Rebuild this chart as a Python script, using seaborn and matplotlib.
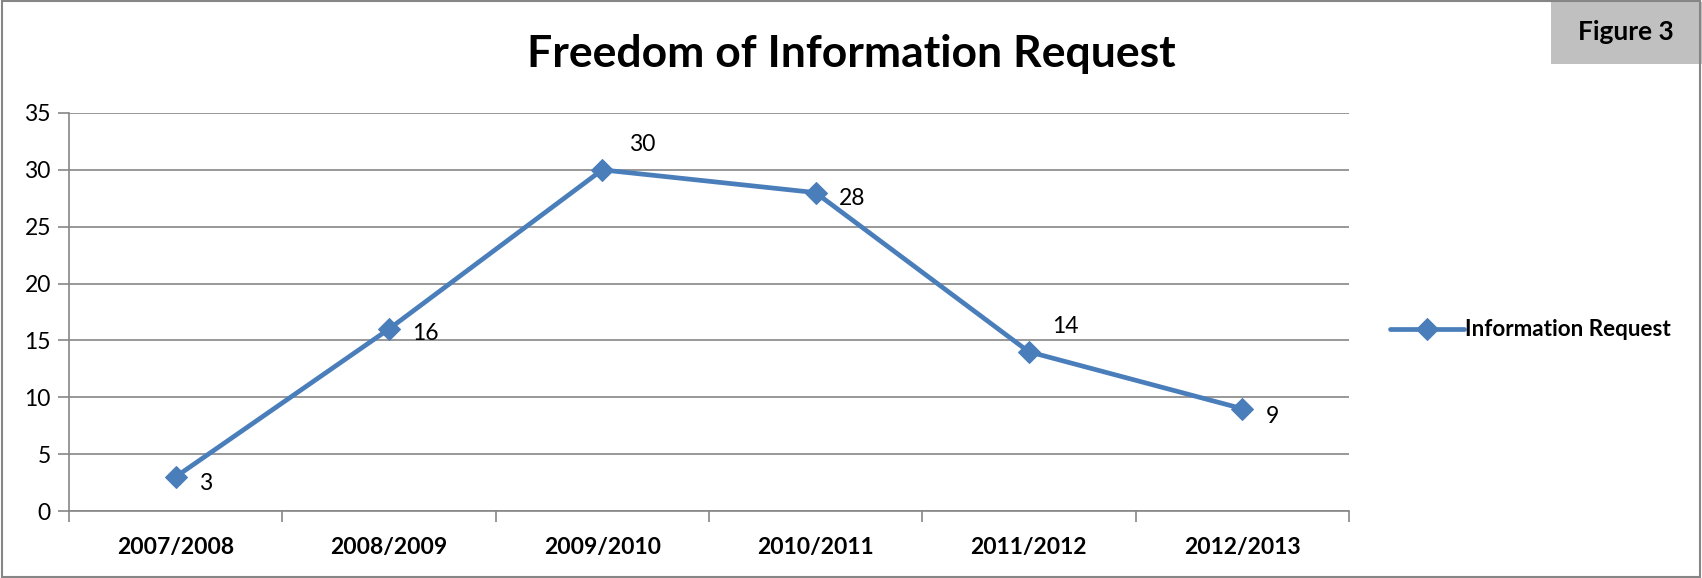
import matplotlib
matplotlib.use("Agg")
import matplotlib.pyplot as plt
import pandas as pd
import seaborn as sns
from matplotlib.patches import Rectangle

years = ["2007/2008", "2008/2009", "2009/2010", "2010/2011", "2011/2012", "2012/2013"]
requests = [3, 16, 30, 28, 14, 9]
seriesName = "Information Request"

# label offsets in points (Excel put some above-right)
labelOffsets = [(17, -5), (17, -3), (19, 18), (17, -4), (17, 18), (17, -6)]

df = pd.DataFrame({"Year": range(len(years)), "Requests": requests, "Series": seriesName})

sns.set_theme(style="white", rc={"text.color": "black", "xtick.color": "black", "ytick.color": "black"})
plt.rcParams["font.family"] = ["Lato", "DejaVu Sans"]

blue = "#4A7EBB"
grey = "#868686"

fig = plt.figure(figsize=(17.02, 5.78), dpi=100)
ax = fig.add_axes([0.0405, 0.1159, 0.752, 0.6886])

sns.lineplot(x="Year", y="Requests", hue="Series", data=df, palette=[blue], marker="D",
             markersize=11, linewidth=3.4, markeredgecolor=blue, ax=ax)

for i, v in enumerate(requests):
    ax.annotate(str(v), (i, v), xytext=labelOffsets[i], textcoords="offset points",
                fontsize=16.5, color="black", va="center", ha="left")

ax.set_ylim(0, 35)
ax.set_yticks(range(0, 36, 5))
ax.set_xlim(-0.5, len(years) - 0.5)
ax.set_xticks([i - 0.5 for i in range(len(years) + 1)])
ax.set_xticklabels([])
ax.set_xticks(range(len(years)), minor=True)
ax.set_xticklabels(years, minor=True, fontsize=16.5, fontweight="bold")
ax.tick_params(axis="x", which="major", direction="out", length=8, color=grey, width=1.2, bottom=True)
ax.tick_params(axis="x", which="minor", length=0, pad=19)
ax.tick_params(axis="y", direction="out", length=8, color=grey, width=1.2, left=True, labelsize=16.5, pad=5)
ax.yaxis.grid(True, color=grey, linewidth=1.2)
ax.set_axisbelow(True)
for s in ["top", "right"]:
    ax.spines[s].set_visible(False)
for s in ["left", "bottom"]:
    ax.spines[s].set_color(grey)
    ax.spines[s].set_linewidth(1.2)
ax.set_xlabel("")
ax.set_ylabel("")

leg = ax.legend(loc="center left", bbox_to_anchor=(1.016, 0.455), frameon=False,
                prop={"weight": "bold", "size": 16.2}, handlelength=3.3, handletextpad=0.05)

fig.text(0.5, 0.907, "Freedom of Information Request", ha="center", va="center",
         fontsize=32, fontweight="bold", color="black")

fig.patches.append(Rectangle((1551 / 1702, 1 - 64 / 578), 151 / 1702, 62 / 578,
                             transform=fig.transFigure, facecolor="#C0C0C0", edgecolor="none"))
fig.text(1626 / 1702, 1 - 32 / 578, "Figure 3", ha="center", va="center", fontsize=19,
         fontweight="bold", color="black")

fig.patches.append(Rectangle((0.001, 0.002), 0.998, 0.996, transform=fig.transFigure,
                             facecolor="none", edgecolor=grey, linewidth=1.5))

plt.savefig("out.png", dpi=100)
